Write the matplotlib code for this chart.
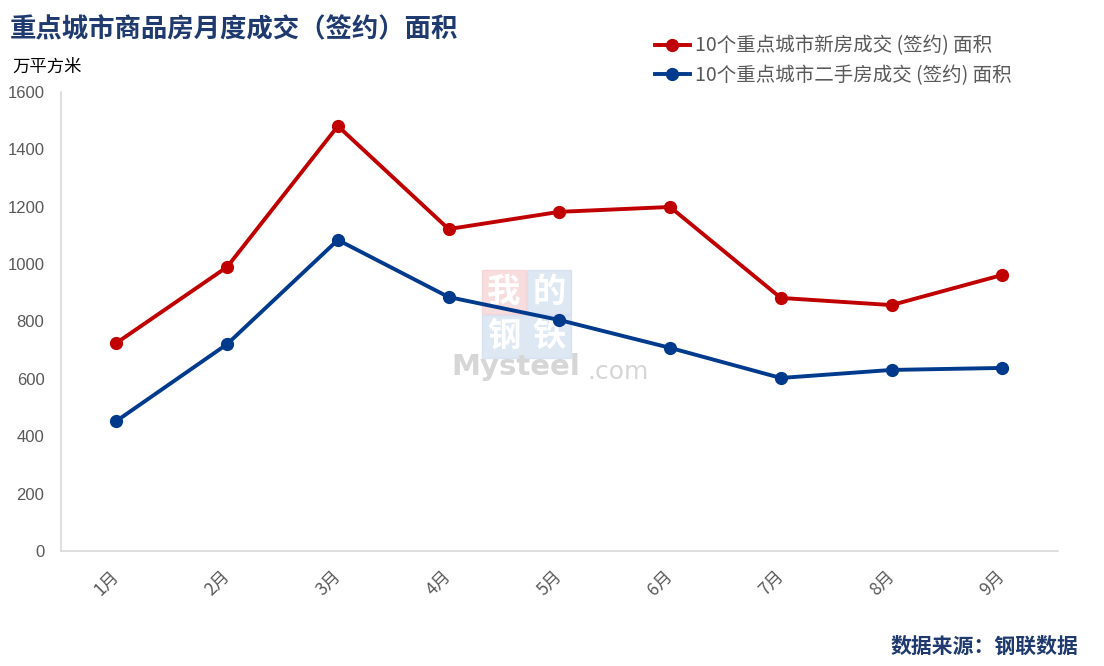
import matplotlib.pyplot as plt
from matplotlib.patches import Rectangle

plt.rcParams['font.family'] = ['Noto Sans CJK SC', 'DejaVu Sans']

months = ['1月', '2月', '3月', '4月', '5月', '6月', '7月', '8月', '9月']
new_house = [725, 990, 1481, 1122, 1182, 1199, 882, 857, 962]
second_hand = [453, 721, 1084, 885, 805, 708, 603, 631, 638]

red = '#C00000'
blue = '#003A8C'
navy = '#1F3A6E'
grey = '#595959'

fig = plt.figure(figsize=(11.04, 6.66), dpi=100)
ax = fig.add_axes([0.0553, 0.1727, 0.9027, 0.6893])
ax.set_zorder(2)
ax.patch.set_visible(False)

x = range(len(months))
ax.plot(x, new_house, color=red, lw=2.8, marker='o', ms=8.5, label='10个重点城市新房成交 (签约) 面积', zorder=3)
ax.plot(x, second_hand, color=blue, lw=2.8, marker='o', ms=8.5, label='10个重点城市二手房成交 (签约) 面积', zorder=3)

ax.set_xlim(-0.5, len(months) - 0.5)
ax.set_ylim(0, 1600)
ax.set_yticks(range(0, 1601, 200))
ax.set_xticks(list(x))
ax.set_xticklabels(months, rotation=45, fontsize=12.5, color=grey, ha='right', va='center',
                   rotation_mode='anchor')
ax.tick_params(axis='y', labelsize=12, colors=grey, length=0, pad=12)
ax.tick_params(axis='x', length=0, pad=16)
for lab in ax.get_yticklabels():
    lab.set_family(['Liberation Sans', 'DejaVu Sans'])
for s in ['top', 'right']:
    ax.spines[s].set_visible(False)
for s in ['left', 'bottom']:
    ax.spines[s].set_color('#D9D9D9')
    ax.spines[s].set_linewidth(1.2)

# watermark
for (bx, by, bw, bh, c) in [(482, 314, 44, 44, '#F4C7CB'), (527, 314, 44, 44, '#C9D9EC'),
                            (482, 358, 89, 43, '#C9D9EC')]:
    fig.patches.append(Rectangle((bx / 1104, 1 - by / 666), bw / 1104, bh / 666, transform=fig.transFigure,
                                 color=c, alpha=0.6, zorder=0))
for ch, cx, cy in [('我', 504, 292), ('的', 549, 292), ('钢', 504, 336), ('铁', 549, 336)]:
    fig.text(cx / 1104, 1 - cy / 666, ch, fontsize=24, color='white', ha='center', va='center',
             weight='bold', zorder=1)
fig.text(451 / 1104, 1 - 367 / 666, 'Mysteel', fontsize=21, color='#D6D6D6', ha='left', va='center',
         weight='bold', family='DejaVu Sans', zorder=1)
fig.text(587 / 1104, 1 - 372 / 666, '.com', fontsize=18, color='#D6D6D6', ha='left', va='center',
         family='DejaVu Sans', zorder=1)

fig.text(10 / 1104, 1 - 30 / 666, '重点城市商品房月度成交（签约）面积', fontsize=19, weight='bold',
         color=navy, ha='left', va='center')
fig.text(12 / 1104, 1 - 67 / 666, '万平方米', fontsize=12.5, color='black', ha='left', va='center')
fig.text(1078 / 1104, 1 - 646 / 666, '数据来源：钢联数据', fontsize=15, weight='bold',
         color=navy, ha='right', va='center')

fig.legend(loc='upper left', bbox_to_anchor=(637 / 1104, 1 - 18 / 666), frameon=False,
           fontsize=14, labelcolor=grey, handlelength=1.8, handletextpad=0.3, labelspacing=0.45)

fig.savefig('out.png', dpi=100)
